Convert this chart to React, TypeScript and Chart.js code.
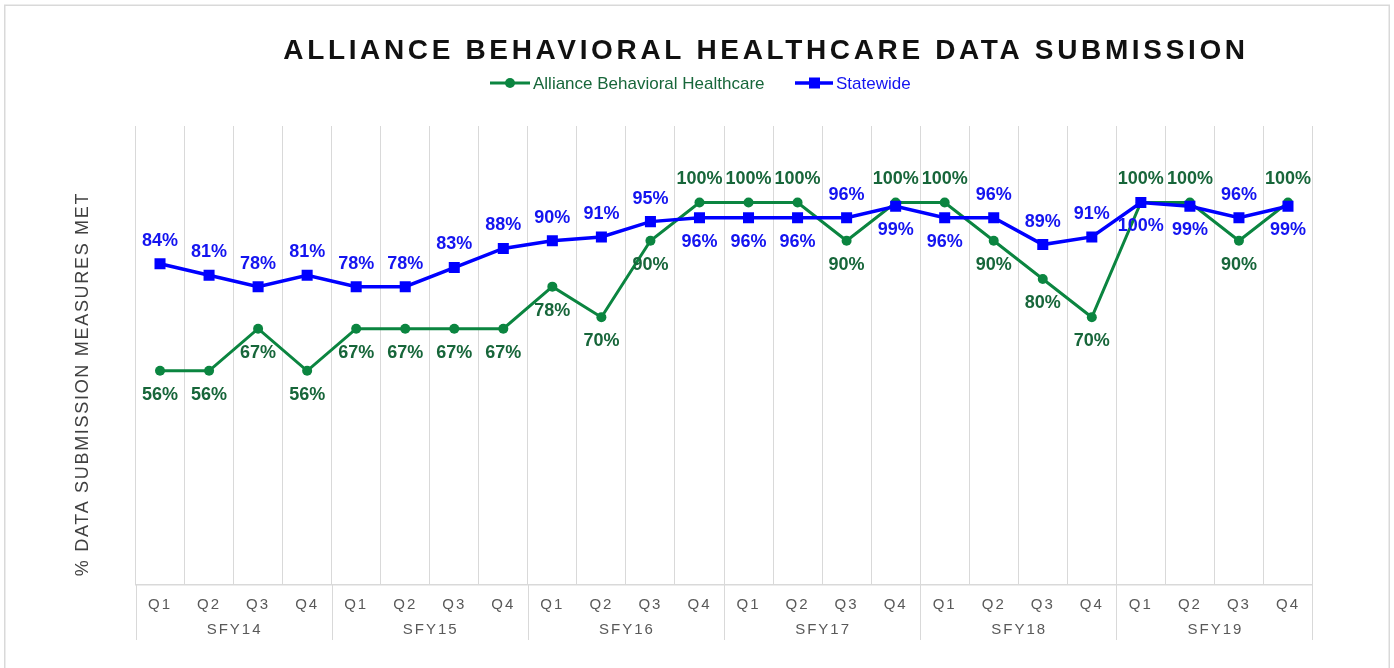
import React, { useEffect, useRef } from 'react';
import { Chart, registerables } from 'chart.js';

Chart.register(...registerables);

const quarters = ['Q1', 'Q2', 'Q3', 'Q4'];
const fiscalYears = ['SFY14', 'SFY15', 'SFY16', 'SFY17', 'SFY18', 'SFY19'];
const allianceValues = [56, 56, 67, 56, 67, 67, 67, 67, 78, 70, 90, 100, 100, 100, 90, 100, 100, 90, 80, 70, 100, 100, 90, 100];
const statewideValues = [84, 81, 78, 81, 78, 78, 83, 88, 90, 91, 95, 96, 96, 96, 96, 99, 96, 96, 89, 91, 100, 99, 96, 99];
const seriesNames = ['Alliance Behavioral Healthcare', 'Statewide'];
const titleText = 'ALLIANCE BEHAVIORAL HEALTHCARE DATA SUBMISSION';
const yAxisTitle = '% DATA SUBMISSION MEASURES MET';

const FONT = '"Liberation Sans", Arial, sans-serif';
const GREEN = '#0b8540';
const GREEN_LABEL = '#17663a';
const BLUE = '#0000ff';
const BLUE_LABEL = '#1414f0';
const GRID = '#d9d9d9';
const AXIS_TEXT = '#595959';

const categoryLabels = fiscalYears.flatMap(() => quarters);

const decorPlugin = {
  id: 'decor',
  beforeDraw(chart: any) {
    const ctx = chart.ctx;
    ctx.save();
    ctx.fillStyle = '#ffffff';
    ctx.fillRect(0, 0, chart.width, chart.height);
    ctx.strokeStyle = GRID;
    ctx.lineWidth = 1.5;
    ctx.strokeRect(4.75, 5.25, 1384.5, 700);
    ctx.restore();
    ctx.letterSpacing = '2px';
  },
  beforeDatasetsDraw(chart: any) {
    chart.ctx.letterSpacing = '0px';
  },
  afterDatasetsDraw(chart: any) {
    const ctx = chart.ctx;
    ctx.save();
    ctx.letterSpacing = '0px';
    ctx.font = `bold 18px ${FONT}`;
    ctx.textAlign = 'center';
    ctx.textBaseline = 'middle';
    const gMeta = chart.getDatasetMeta(0);
    const bMeta = chart.getDatasetMeta(1);
    for (let i = 0; i < allianceValues.length; i++) {
      const g = allianceValues[i];
      const b = statewideValues[i];
      const gp = gMeta.data[i];
      const bp = bMeta.data[i];
      const gAbove = g >= b;
      ctx.fillStyle = GREEN_LABEL;
      ctx.fillText(`${g}%`, gp.x, gAbove ? gp.y - 23 : gp.y + 24);
      const bAbove = b > g;
      ctx.fillStyle = BLUE_LABEL;
      ctx.fillText(`${b}%`, bp.x, bAbove ? bp.y - 23 : bp.y + 24);
    }
    ctx.restore();
  },
  afterDraw(chart: any) {
    const ctx = chart.ctx;
    const xs = chart.scales.x;
    const area = chart.chartArea;
    ctx.save();

    // group separators and fiscal-year labels
    const half = (xs.getPixelForValue(1) - xs.getPixelForValue(0)) / 2;
    const bounds: number[] = [];
    for (let g = 0; g <= fiscalYears.length; g++) {
      const idx = g * quarters.length;
      bounds.push(idx < categoryLabels.length ? xs.getPixelForValue(idx) - half : xs.getPixelForValue(idx - 1) + half);
    }
    ctx.strokeStyle = GRID;
    ctx.lineWidth = 1;
    bounds.forEach((bx) => {
      const x = Math.round(bx) + 0.5;
      ctx.beginPath();
      ctx.moveTo(x, area.bottom);
      ctx.lineTo(x, 640);
      ctx.stroke();
    });
    ctx.letterSpacing = '2px';
    ctx.font = `15px ${FONT}`;
    ctx.fillStyle = AXIS_TEXT;
    ctx.textAlign = 'center';
    ctx.textBaseline = 'middle';
    fiscalYears.forEach((fy, g) => {
      ctx.fillText(fy, (bounds[g] + bounds[g + 1]) / 2 + 1, 630);
    });

    // title
    ctx.letterSpacing = '3.65px';
    ctx.font = `bold 28px ${FONT}`;
    ctx.fillStyle = '#111111';
    ctx.fillText(titleText, 766, 51);

    // y axis title
    ctx.save();
    ctx.translate(83, 384);
    ctx.rotate(-Math.PI / 2);
    ctx.letterSpacing = '1.7px';
    ctx.font = `18px ${FONT}`;
    ctx.fillStyle = '#404040';
    ctx.fillText(yAxisTitle, 0, 0);
    ctx.restore();

    // legend
    ctx.letterSpacing = '0px';
    ctx.font = `17px ${FONT}`;
    ctx.textAlign = 'left';
    const ly = 83;
    // green entry
    ctx.strokeStyle = GREEN;
    ctx.lineWidth = 3;
    ctx.beginPath();
    ctx.moveTo(490, ly);
    ctx.lineTo(530, ly);
    ctx.stroke();
    ctx.fillStyle = GREEN;
    ctx.beginPath();
    ctx.arc(510, ly, 5, 0, Math.PI * 2);
    ctx.fill();
    ctx.fillStyle = GREEN_LABEL;
    ctx.fillText(seriesNames[0], 533, ly + 1);
    // blue entry
    ctx.strokeStyle = BLUE;
    ctx.lineWidth = 3.5;
    ctx.beginPath();
    ctx.moveTo(795, ly);
    ctx.lineTo(833, ly);
    ctx.stroke();
    ctx.fillStyle = BLUE;
    ctx.fillRect(809, ly - 5.5, 11, 11);
    ctx.fillStyle = BLUE_LABEL;
    ctx.fillText(seriesNames[1], 836, ly + 1);

    ctx.restore();
  },
};

export default function App() {
  const canvasRef = useRef<HTMLCanvasElement | null>(null);

  useEffect(() => {
    const canvas = canvasRef.current;
    if (!canvas) return;
    const chart = new Chart(canvas, {
      type: 'line',
      data: {
        labels: categoryLabels,
        datasets: [
          {
            label: seriesNames[0],
            data: allianceValues,
            borderColor: GREEN,
            backgroundColor: GREEN,
            borderWidth: 3,
            pointStyle: 'circle',
            pointRadius: 5,
            pointBackgroundColor: GREEN,
            pointBorderColor: GREEN,
            pointBorderWidth: 0,
            tension: 0,
            order: 2,
          },
          {
            label: seriesNames[1],
            data: statewideValues,
            borderColor: BLUE,
            backgroundColor: BLUE,
            borderWidth: 3.5,
            pointStyle: 'rect',
            pointRadius: 7.8,
            pointBackgroundColor: BLUE,
            pointBorderColor: BLUE,
            pointBorderWidth: 0,
            tension: 0,
            order: 1,
          },
        ],
      },
      options: {
        responsive: false,
        animation: false,
        layout: { padding: { left: 135.5, right: 81.5, top: 126, bottom: 0 } },
        plugins: {
          legend: { display: false },
          title: { display: false },
          tooltip: { enabled: false },
        },
        scales: {
          x: {
            type: 'category',
            offset: true,
            grid: { offset: true, color: GRID, lineWidth: 1, drawTicks: false },
            border: { display: true, color: GRID, width: 1.5 },
            ticks: {
              padding: 11,
              color: AXIS_TEXT,
              font: { size: 15, family: FONT },
              maxRotation: 0,
              autoSkip: false,
            },
            afterFit: (scale: any) => {
              scale.height = 83;
            },
          },
          y: {
            display: false,
            min: 0,
            max: 120,
          },
        },
      },
      plugins: [decorPlugin],
    });
    return () => chart.destroy();
  }, []);

  return (
    <div style={{ position: 'fixed', left: 0, top: 0, width: 1394, height: 668, background: '#fff' }}>
      <canvas ref={canvasRef} width={1394} height={668} style={{ display: 'block' }} />
    </div>
  );
}
